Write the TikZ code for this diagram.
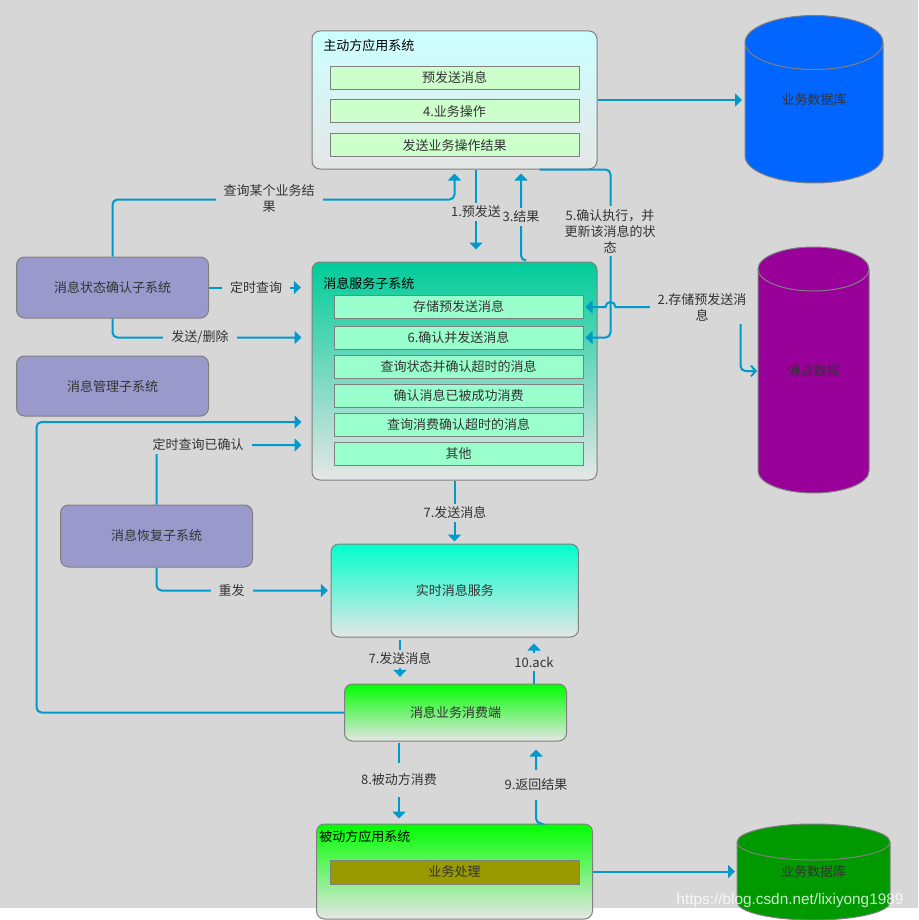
\documentclass[tikz,border=0pt]{standalone}
\usepackage{fontspec}
\setmainfont{Noto Sans CJK SC}
\newfontfamily\wmfont{Liberation Sans}
\usetikzlibrary{arrows.meta,calc}
\definecolor{bg}{HTML}{D7D7D7}
\definecolor{bord}{HTML}{808080}
\definecolor{txt}{HTML}{333333}
\definecolor{cblue}{HTML}{0099CC}
\definecolor{lilac}{HTML}{9999CC}
\definecolor{pale}{HTML}{CCFFCC}
\definecolor{mint}{HTML}{99FFCC}
\definecolor{endgray}{HTML}{E6E6E6}
\definecolor{dbblue}{HTML}{0066FF}
\definecolor{dbpurple}{HTML}{990099}
\definecolor{dbgreen}{HTML}{009900}
\definecolor{olive}{HTML}{999900}
\definecolor{topcyan}{HTML}{CCFFFF}
\definecolor{topteal}{HTML}{00CC99}
\definecolor{topaqua}{HTML}{00FFCC}
\definecolor{topgreen}{HTML}{00FF00}
\newcommand\drawcyl[6]{%
  \fill[#6] (#1-#2,#3) -- (#1-#2,#4) arc[start angle=180,end angle=0,x radius=#2,y radius=#5]
     -- (#1+#2,#3) arc[start angle=0,end angle=-180,x radius=#2,y radius=#5] -- cycle;
  \draw[bord,line width=0.75pt] (#1-#2,#3) -- (#1-#2,#4) arc[start angle=180,end angle=0,x radius=#2,y radius=#5] -- (#1+#2,#3);
  \draw[bord,line width=0.75pt] (#1,#3) ellipse[x radius=#2,y radius=#5];
}
\begin{document}
\begin{tikzpicture}[x=0.75pt,y=-0.75pt,
  font=\fontsize{9.75}{12}\selectfont,
  every node/.style={text=txt},
  box/.style={draw=bord,line width=0.75pt,rounded corners=6pt,inner sep=0pt},
  inbox/.style={draw=bord,line width=0.75pt,inner sep=0pt,minimum width=186.75pt,minimum height=17.25pt},
  conn/.style={draw=cblue,line width=1.5pt,rounded corners=3.75pt},
  tip/.style={-{Triangle[length=5.25pt,width=9.75pt]}},
  lbl/.style={fill=bg,inner xsep=6pt,inner ysep=2.5pt,align=center},
  title/.style={anchor=west,inner sep=0pt,text=black}
]
\useasboundingbox (0,0) rectangle (918,920);
\fill[white] (0,0) rectangle (918,920);
\fill[bg] (0,0) rectangle (918,908);

% cylinders
\drawcyl{814}{69}{42.5}{156}{27}{dbblue}
\drawcyl{813.5}{55.5}{269}{471}{22}{dbpurple}
\drawcyl{813.5}{76.5}{842}{902}{18}{dbgreen}
\node (db1) at (814,100) {业务数据库};
\node (db2) at (813.5,371) {消息数据};
\node (db3) at (813.5,872) {业务数据库};
\coordinate (db1w) at (745,100);
\coordinate (db2w) at (758,371);
\coordinate (db3w) at (737,871.5);

% main (active) application system
\node[box,top color=topcyan,bottom color=endgray,minimum width=213.75pt,minimum height=103.5pt] (main) at (454.5,100) {};
\node[title] (mainT) at (323,46) {主动方应用系统};
\node[inbox,fill=pale] (m1) at (454.5,78) {预发送消息};
\node[inbox,fill=pale] (m2) at (454.5,111.5) {4.业务操作};
\node[inbox,fill=pale] (m3) at (454.5,145.5) {发送业务操作结果};

% message service subsystem
\node[box,top color=topteal,bottom color=endgray,minimum width=213.75pt,minimum height=163.5pt] (service) at (454.5,371) {};
\node[title] (serviceT) at (323,283) {消息服务子系统};
\node[inbox,fill=mint] (svc1) at (458.5,307) {存储预发送消息};
\node[inbox,fill=mint] (svc2) at (458.5,337.5) {6.确认并发送消息};
\node[inbox,fill=mint] (svc3) at (458.5,366.5) {查询状态并确认超时的消息};
\node[inbox,fill=mint] (svc4) at (458.5,395.5) {确认消息已被成功消费};
\node[inbox,fill=mint] (svc5) at (458.5,424.5) {查询消费确认超时的消息};
\node[inbox,fill=mint] (svc6) at (458.5,453.5) {其他};

% left subsystems
\node[box,fill=lilac,minimum width=144pt,minimum height=45.75pt] (status) at (112.5,287.5) {消息状态确认子系统};
\node[box,fill=lilac,minimum width=144pt,minimum height=45pt] (mgmt) at (112.5,386) {消息管理子系统};
\node[box,fill=lilac,minimum width=144pt,minimum height=46.5pt] (recovery) at (156.5,536) {消息恢复子系统};

% realtime, consumer, passive
\node[box,top color=topaqua,bottom color=endgray,minimum width=185.6pt,minimum height=69.75pt] (realtime) at (454.75,590.5) {实时消息服务};
\node[box,top color=topgreen,bottom color=endgray,minimum width=166.5pt,minimum height=42.75pt] (consumer) at (455.5,712.5) {消息业务消费端};
\node[box,top color=topgreen,bottom color=endgray,minimum width=207pt,minimum height=71.25pt] (passive) at (454.5,871.5) {};
\node[title] (passiveT) at (319,837) {被动方应用系统};
\node[inbox,fill=olive,minimum height=18pt] (biz) at (454.5,872) {业务处理};

% connectors
\draw[conn,tip,shorten >=3pt] (status.north) |- ($(main.south)+(0,30)$) -- (main.south);
\draw[conn,tip,shorten >=9pt] ($(main.south)+(21.5,0)$) -- ($(service.north)+(21.5,0)$);
\draw[conn,tip,shorten >=3pt] ($(service.north)+(71.5,-1)$) -| ($(main.south)+(66.5,0)$);
\draw[conn,tip,shorten >=1.5pt] ($(main.south east)+(-58,0)$) -| ($(svc2.east)+(27,0)$) -- (svc2.east);
\draw[draw=cblue,line width=1.5pt,{Triangle[length=5.25pt,width=9.75pt]}-{Straight Barb[length=3.5pt,width=8pt]},shorten <=1.5pt,shorten >=0.75pt]
  (svc1.east) -- ($(svc1.east)+(22,0)$) arc[start angle=180,end angle=360,radius=5]
  [rounded corners=3.75pt] -- ($(svc1.east)+(157,0)$) |- (db2w);
\draw[conn,tip,shorten >=8pt] (status.east) -- (status.east -| service.west);
\draw[conn,tip,shorten >=7.5pt] (status.south) |- (svc2.west -| service.west);
\draw[conn,tip,shorten >=7.5pt] (recovery.north) |- ($(service.west)+(0,74)$);
\draw[conn,tip,shorten >=7.5pt] (consumer.west) -| ($(service.west)+(-275,51)$) -- ($(service.west)+(0,51)$);
\draw[conn,tip,shorten >=1.5pt] (service.south) -- (service.south |- realtime.north);
\draw[conn,tip,shorten >=2pt] (recovery.south) |- (realtime.west);
\draw[conn,tip,shorten >=5pt] ($(realtime.south)+(-54.75,2)$) -- ($(consumer.north)+(-55.5,0)$);
\draw[conn,tip,shorten >=4.5pt] ($(consumer.north)+(78.5,0)$) -- ($(realtime.south)+(79.25,0)$);
\draw[conn,tip,shorten >=3.75pt] ($(consumer.south)+(-56.5,1)$) -- ($(passive.north)+(-55.5,0)$);
\draw[conn,tip,shorten >=6pt] ($(passive.north)+(84,0)$) -| ($(consumer.south)+(80.5,0)$);
\draw[conn,tip,shorten >=2.25pt] (main.east) -- (db1w);
\draw[conn,tip,shorten >=1.5pt] (passive.east) -- (db3w);

% labels
\node[lbl] (l1) at (269,199) {查询某个业务结\\果};
\node[lbl,inner xsep=1pt] (l2) at (476,212) {1.预发送};
\node[lbl,inner xsep=1pt] (l3) at (521,217) {3.结果};
\node[lbl] (l4) at (610,231) {5.确认执行，并\\更新该消息的状\\态};
\node[lbl] (l5) at (702,307) {2.存储预发送消\\息};
\node[lbl] (l6) at (256,288) {定时查询};
\node[lbl] (l7) at (200,337) {发送/删除};
\node[lbl] (l8) at (198,445) {定时查询已确认};
\node[lbl] (l9) at (455,513) {7.发送消息};
\node[lbl] (l10) at (231.5,591) {重发};
\node[lbl] (l11) at (400,659) {7.发送消息};
\node[lbl] (l12) at (534,662) {10.ack};
\node[lbl,inner ysep=8pt] (l13) at (399,780) {8.被动方消费};
\node[lbl,inner ysep=7pt] (l14) at (536,785) {9.返回结果};

% watermark
\node[text=white,opacity=0.8,inner sep=0pt] (wm) at (790,901) {\wmfont\fontsize{11.5}{12}\selectfont https://blog.csdn.net/lixiyong1989};
\end{tikzpicture}
\end{document}
